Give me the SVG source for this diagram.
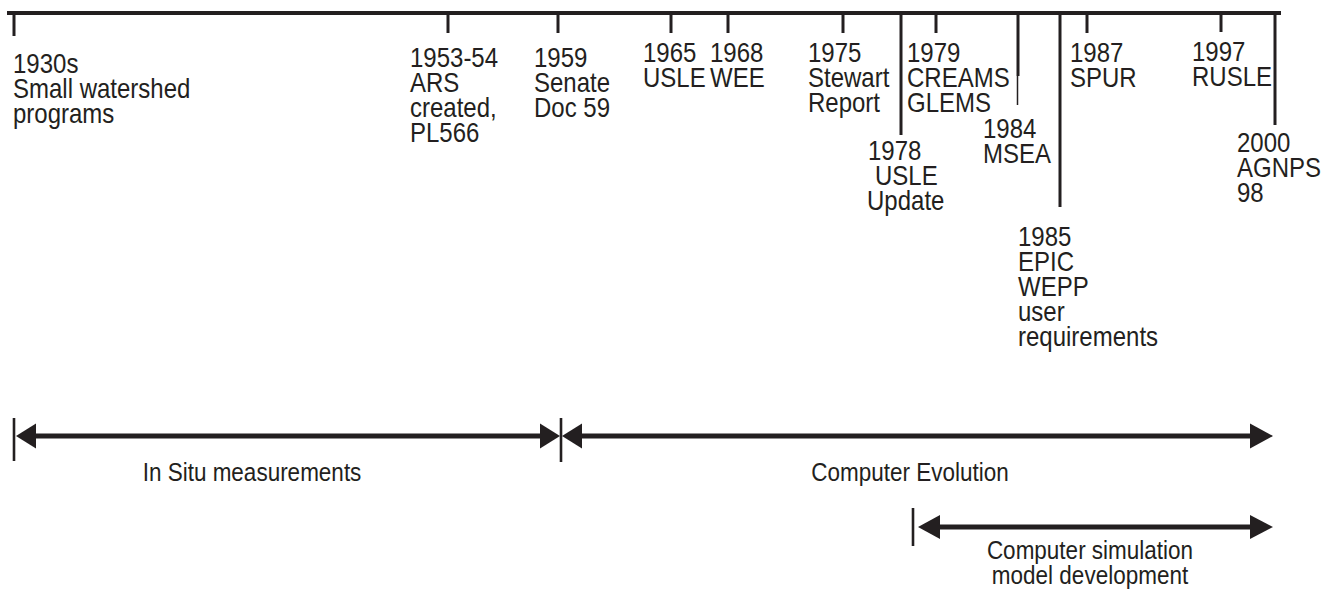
<svg xmlns="http://www.w3.org/2000/svg" width="1330" height="595" viewBox="0 0 1330 595">
<style>
.t{font-family:"Liberation Sans",Arial,Helvetica,sans-serif;font-size:24px;fill:#231f20}
.b{font-family:"Liberation Sans",Arial,Helvetica,sans-serif;font-size:22.5px;fill:#231f20;text-anchor:middle}
.ax{stroke:#231f20;stroke-width:4;fill:none}
.tk{stroke:#231f20;stroke-width:3;fill:none}
.thin{stroke:#231f20;stroke-width:1.5;fill:none}
.ar{stroke:#231f20;stroke-width:5;fill:none}
.bar{stroke:#231f20;stroke-width:2.6;fill:none}
.hd{fill:#231f20}
</style>
<rect width="1330" height="595" fill="#ffffff"/>
<g id="connectors">
  <line class="ax" x1="7" y1="13" x2="1281" y2="13"/>
  <line class="tk" x1="14" y1="13" x2="14" y2="36"/>
  <line class="tk" x1="448" y1="13" x2="448" y2="33"/>
  <line class="tk" x1="558" y1="13" x2="558" y2="33"/>
  <line class="tk" x1="671" y1="13" x2="671" y2="33"/>
  <line class="tk" x1="728" y1="13" x2="728" y2="33"/>
  <line class="tk" x1="843" y1="13" x2="843" y2="33"/>
  <line class="tk" x1="901" y1="13" x2="901" y2="135"/>
  <line class="tk" x1="936" y1="13" x2="936" y2="33"/>
  <line class="tk" x1="1018" y1="13" x2="1018" y2="76"/>
  <line class="thin" x1="1017.5" y1="76" x2="1017.5" y2="105"/>
  <line class="tk" x1="1060" y1="13" x2="1060" y2="207"/>
  <line class="tk" x1="1087" y1="13" x2="1087" y2="33"/>
  <line class="tk" x1="1221" y1="13" x2="1221" y2="32"/>
  <line class="tk" x1="1275" y1="13" x2="1275" y2="125"/>
  <line class="bar" x1="14" y1="418" x2="14" y2="461"/>
  <line class="bar" x1="561" y1="418" x2="561" y2="462"/>
  <line class="ar" x1="30" y1="436" x2="546" y2="436"/>
  <polygon class="hd" points="16,436 36,423.5 36,448.5"/>
  <polygon class="hd" points="560,436 540,423.5 540,448.5"/>
  <line class="ar" x1="576" y1="436" x2="1256" y2="436"/>
  <polygon class="hd" points="562,436 582,423.5 582,448.5"/>
  <polygon class="hd" points="1273,436 1250,423.5 1250,448.5"/>
  <line class="bar" x1="913" y1="508" x2="913" y2="546"/>
  <line class="ar" x1="934" y1="527" x2="1256" y2="527"/>
  <polygon class="hd" points="918,527 940,515 940,539"/>
  <polygon class="hd" points="1273,527 1250,515 1250,539"/>
</g>
<g id="n1930"><text class="t" transform="translate(13,73) scale(1,1.15)"><tspan x="0" y="0">1930s</tspan><tspan x="0" y="21.74">Small watershed</tspan><tspan x="0" y="43.48">programs</tspan></text></g>
<g id="n1953"><text class="t" transform="translate(410,67) scale(1,1.15)"><tspan x="0" y="0">1953-54</tspan><tspan x="0" y="21.74">ARS</tspan><tspan x="0" y="43.48">created,</tspan><tspan x="0" y="65.22">PL566</tspan></text></g>
<g id="n1959"><text class="t" transform="translate(534,67) scale(1,1.15)"><tspan x="0" y="0">1959</tspan><tspan x="0" y="21.74">Senate</tspan><tspan x="0" y="43.48">Doc 59</tspan></text></g>
<g id="n1965"><text class="t" transform="translate(643,62) scale(1,1.15)"><tspan x="0" y="0">1965</tspan><tspan x="0" y="21.74">USLE</tspan></text></g>
<g id="n1968"><text class="t" transform="translate(710,62) scale(1,1.15)"><tspan x="0" y="0">1968</tspan><tspan x="0" y="21.74">WEE</tspan></text></g>
<g id="n1975"><text class="t" transform="translate(808,62) scale(1,1.15)"><tspan x="0" y="0">1975</tspan><tspan x="0" y="21.74">Stewart</tspan><tspan x="0" y="43.48">Report</tspan></text></g>
<g id="n1978"><text class="t" transform="translate(868,160) scale(1,1.15)"><tspan x="0" y="0">1978</tspan><tspan x="7" y="21.74">USLE</tspan><tspan x="-1" y="43.48">Update</tspan></text></g>
<g id="n1979"><text class="t" transform="translate(907,62) scale(1,1.15)"><tspan x="0" y="0">1979</tspan><tspan x="0" y="21.74">CREAMS</tspan><tspan x="0" y="43.48">GLEMS</tspan></text></g>
<g id="n1984"><text class="t" transform="translate(983,138) scale(1,1.15)"><tspan x="0" y="0">1984</tspan><tspan x="0" y="21.74">MSEA</tspan></text></g>
<g id="n1985"><text class="t" transform="translate(1018,246) scale(1,1.15)"><tspan x="0" y="0">1985</tspan><tspan x="0" y="21.74">EPIC</tspan><tspan x="0" y="43.48">WEPP</tspan><tspan x="0" y="65.22">user</tspan><tspan x="0" y="86.96">requirements</tspan></text></g>
<g id="n1987"><text class="t" transform="translate(1070,62) scale(1,1.15)"><tspan x="0" y="0">1987</tspan><tspan x="0" y="21.74">SPUR</tspan></text></g>
<g id="n1997"><text class="t" transform="translate(1192,61) scale(1,1.15)"><tspan x="0" y="0">1997</tspan><tspan x="0" y="21.74">RUSLE</tspan></text></g>
<g id="n2000"><text class="t" transform="translate(1237,152) scale(1,1.15)"><tspan x="0" y="0">2000</tspan><tspan x="0" y="21.74">AGNPS</tspan><tspan x="0" y="43.48">98</tspan></text></g>
<g id="insitu"><text class="b" transform="translate(252,481) scale(1,1.15)">In Situ measurements</text></g>
<g id="evolution"><text class="b" transform="translate(910,481) scale(1,1.15)">Computer Evolution</text></g>
<g id="simulation"><text class="b" transform="translate(1090,559) scale(1,1.15)"><tspan x="0" y="0">Computer simulation</tspan><tspan x="0" y="21.74">model development</tspan></text></g>
</svg>
